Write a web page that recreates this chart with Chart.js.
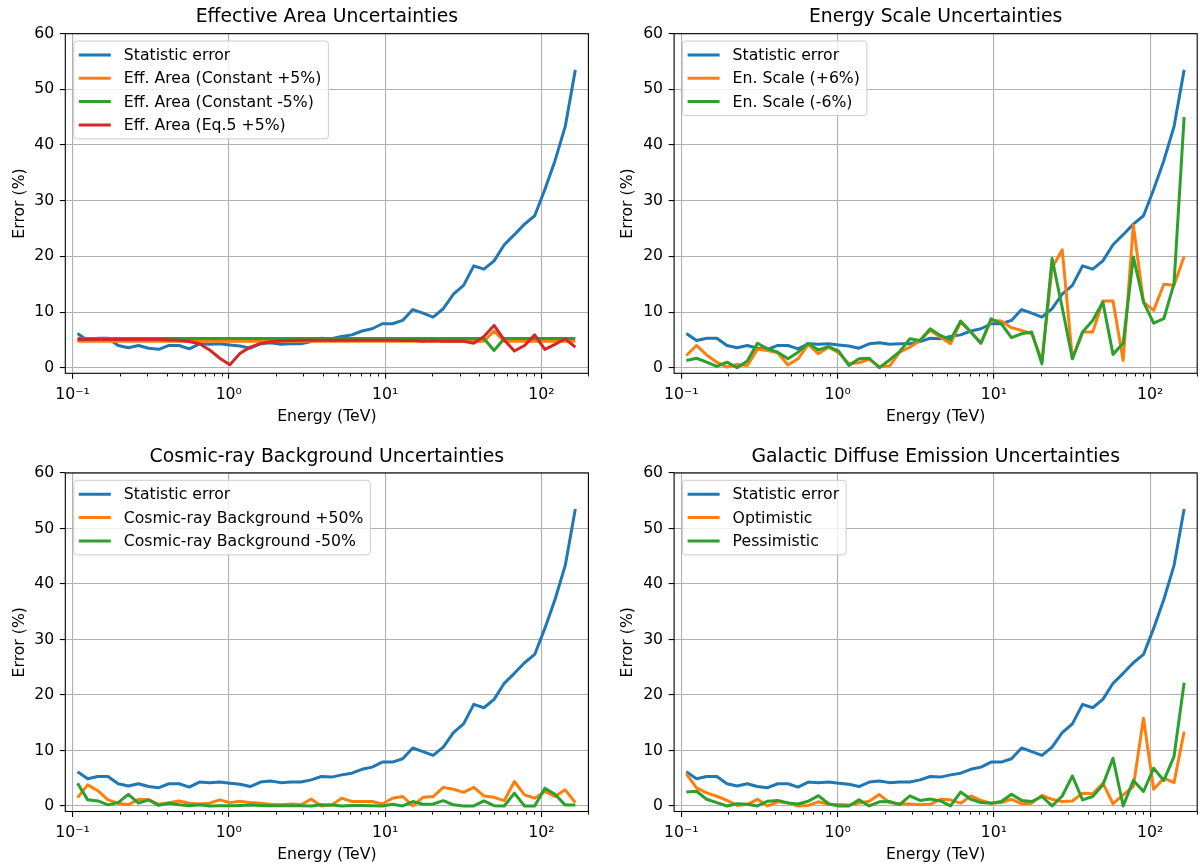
<!DOCTYPE html>
<html>
<head>
<meta charset="utf-8">
<title>Systematic uncertainties vs energy</title>
<script src="https://cdn.jsdelivr.net/npm/chart.js@4.4.0/dist/chart.umd.min.js"></script>
<style>
  html, body { margin: 0; padding: 0; background: #fff; }
  #figure { position: relative; width: 1200px; height: 867px; overflow: hidden; }
  #figure canvas { position: absolute; }
</style>
</head>
<body>
<div id="figure"></div>
<script>
// Energy bin centres (TeV), shared by all four panels
const energy = [0.1078, 0.1252, 0.1454, 0.1689, 0.1961, 0.2278, 0.2646, 0.3073, 0.3569, 0.4145,
  0.4814, 0.5591, 0.6494, 0.7542, 0.8760, 1.017, 1.182, 1.372, 1.594, 1.851,
  2.150, 2.497, 2.901, 3.369, 3.913, 4.545, 5.278, 6.130, 7.120, 8.269,
  9.605, 11.16, 12.96, 15.05, 17.48, 20.30, 23.58, 27.38, 31.80, 36.94,
  42.90, 49.83, 57.87, 67.21, 78.07, 90.67, 105.3, 122.3, 142.1, 165.0];

// Statistic error (%)
const statError = [6.15, 4.9, 5.3, 5.3, 4.0, 3.6, 4.0, 3.5, 3.3, 4.0,
  4.0, 3.4, 4.3, 4.2, 4.3, 4.1, 3.9, 3.5, 4.3, 4.5,
  4.2, 4.3, 4.3, 4.7, 5.3, 5.2, 5.6, 5.9, 6.6, 7.0,
  7.9, 7.9, 8.5, 10.45, 9.8, 9.1, 10.6, 13.2, 14.8, 18.3,
  17.7, 19.2, 22.1, 23.9, 25.8, 27.3, 32.0, 37.2, 43.3, 53.5];

// Effective area panel
const effConstPlus = [4.76, 4.76, 4.76, 4.76, 4.76, 4.76, 4.76, 4.76, 4.76, 4.76,
  4.76, 4.76, 4.76, 4.76, 4.76, 4.76, 4.76, 4.76, 4.76, 4.76,
  4.76, 4.76, 4.76, 4.76, 4.76, 4.76, 4.76, 4.76, 4.76, 4.76,
  4.76, 4.76, 4.76, 4.76, 4.76, 4.76, 4.76, 4.76, 4.76, 4.76,
  4.76, 6.6, 4.76, 4.76, 4.76, 4.76, 4.76, 4.76, 4.76, 4.76];
const effConstMinus = [5.26, 5.26, 5.26, 5.26, 5.26, 5.26, 5.26, 5.26, 5.26, 5.26,
  5.26, 5.26, 5.26, 5.26, 5.26, 5.26, 5.26, 5.26, 5.26, 5.26,
  5.26, 5.26, 5.26, 5.26, 5.26, 5.26, 5.26, 5.26, 5.26, 5.26,
  5.26, 5.26, 5.26, 5.26, 5.26, 5.26, 5.26, 5.26, 5.26, 5.26,
  5.26, 3.1, 5.26, 5.26, 5.26, 5.26, 5.26, 5.26, 5.26, 5.26];
const effEq5Plus = [5.05, 5.05, 5.05, 5.05, 5.05, 5.05, 5.05, 5.05, 5.05, 5.0,
  4.95, 4.7, 4.3, 3.2, 1.7, 0.55, 2.6, 3.7, 4.35, 4.65,
  4.8, 4.9, 4.95, 4.95, 4.95, 4.95, 4.95, 4.95, 4.95, 4.95,
  4.95, 4.95, 4.9, 4.95, 4.75, 4.85, 4.75, 4.8, 4.75, 4.4,
  5.6, 7.6, 5.0, 3.0, 4.0, 5.9, 3.3, 4.2, 5.2, 3.7];

// Energy scale panel
const enScalePlus = [2.2, 4.0, 2.3, 1.0, 0.1, 0.6, 0.4, 3.3, 3.1, 2.7,
  0.5, 1.6, 4.2, 2.5, 3.7, 2.7, 0.7, 0.9, 1.5, 0.2,
  0.3, 2.8, 3.7, 4.9, 6.7, 5.5, 4.3, 8.2, 6.4, 4.4,
  8.5, 8.4, 7.2, 6.7, 6.1, 1.2, 17.9, 21.2, 1.6, 6.4,
  6.4, 12.0, 12.0, 1.3, 25.6, 11.8, 10.3, 15.0, 14.8, 20.0];
const enScaleMinus = [1.3, 1.7, 1.0, 0.25, 1.0, 0.0, 1.2, 4.4, 3.4, 2.8,
  1.6, 2.8, 4.4, 3.2, 3.8, 3.0, 0.4, 1.6, 1.7, 0.0,
  1.4, 2.9, 5.2, 4.9, 7.0, 5.8, 5.0, 8.4, 6.4, 4.4,
  8.8, 7.9, 5.4, 6.1, 6.4, 0.7, 19.6, 10.8, 1.6, 6.4,
  8.5, 11.8, 2.4, 4.4, 19.9, 11.8, 8.0, 8.8, 15.1, 45.0];

// Cosmic-ray background panel
const crBkgPlus = [1.5, 3.8, 2.75, 1.1, 0.5, 0.2, 1.2, 1.1, 0.3, 0.6,
  0.9, 0.5, 0.35, 0.5, 1.1, 0.6, 0.85, 0.6, 0.5, 0.3,
  0.2, 0.35, 0.2, 1.25, 0.0, 0.15, 1.4, 0.8, 0.8, 0.8,
  0.35, 1.4, 1.7, 0.0, 1.55, 1.7, 3.35, 3.0, 2.45, 3.35,
  1.8, 1.55, 0.95, 4.4, 2.0, 1.4, 2.6, 1.7, 2.9, 0.6];
const crBkgMinus = [4.1, 1.1, 0.9, 0.2, 0.6, 2.1, 0.5, 1.1, 0.1, 0.5,
  0.2, 0.05, 0.2, 0.0, 0.05, 0.05, 0.1, 0.15, 0.1, 0.05,
  0.05, 0.05, 0.05, 0.0, 0.2, 0.15, 0.0, 0.1, 0.1, 0.05,
  0.0, 0.3, 0.0, 0.8, 0.3, 0.35, 0.95, 0.2, 0.0, 0.0,
  0.9, 0.05, 0.0, 2.3, 0.0, 0.0, 3.2, 2.1, 0.15, 0.15];

// Galactic diffuse emission panel
const gdeOptimistic = [5.8, 3.25, 2.35, 1.75, 1.0, 0.1, 0.3, 1.2, 0.0, 0.75,
  0.55, 0.0, 0.1, 0.75, 0.3, 0.25, 0.15, 0.55, 0.85, 2.05,
  0.6, 0.4, 0.35, 0.2, 0.3, 1.2, 1.1, 0.5, 1.8, 1.0,
  0.5, 0.6, 1.2, 0.4, 0.5, 1.9, 1.2, 0.8, 0.9, 2.3,
  2.2, 4.1, 0.4, 2.0, 3.5, 15.8, 3.0, 5.0, 4.2, 13.4];
const gdePessimistic = [2.5, 2.65, 1.2, 0.6, 0.0, 0.4, 0.3, 0.0, 0.85, 1.0,
  0.55, 0.35, 0.85, 1.85, 0.4, 0.0, 0.0, 1.1, 0.0, 0.75,
  0.8, 0.25, 1.8, 1.0, 1.25, 0.9, 0.0, 2.5, 1.2, 0.6,
  0.5, 0.8, 2.1, 1.0, 0.8, 1.7, 0.0, 1.8, 5.4, 1.1,
  1.7, 3.8, 8.6, 0.0, 4.6, 2.6, 6.8, 4.6, 8.9, 22.2];

// Axis ticks
const xMajor = [0.1, 1, 10, 100];
const xMajorLabels = ['10⁻¹', '10⁰', '10¹', '10²'];
const xMinor = [0.2, 0.3, 0.4, 0.5, 0.6, 0.7, 0.8, 0.9, 2, 3, 4, 5, 6, 7, 8, 9,
  20, 30, 40, 50, 60, 70, 80, 90, 200];
const yMajor = [0, 10, 20, 30, 40, 50, 60];

const BLUE = '#1f77b4', ORANGE = '#ff7f0e', GREEN = '#2ca02c', RED = '#d62728';
const FONT = '"DejaVu Sans", sans-serif';
const GRID = '#b0b0b0';

const panels = [
  { id: 'effArea', title: 'Effective Area Uncertainties', col: 0, row: 0, series: [
    ['Statistic error', statError, BLUE],
    ['Eff. Area (Constant +5%)', effConstPlus, ORANGE],
    ['Eff. Area (Constant -5%)', effConstMinus, GREEN],
    ['Eff. Area (Eq.5 +5%)', effEq5Plus, RED]] },
  { id: 'enScale', title: 'Energy Scale Uncertainties', col: 1, row: 0, series: [
    ['Statistic error', statError, BLUE],
    ['En. Scale (+6%)', enScalePlus, ORANGE],
    ['En. Scale (-6%)', enScaleMinus, GREEN]] },
  { id: 'crBkg', title: 'Cosmic-ray Background Uncertainties', col: 0, row: 1, series: [
    ['Statistic error', statError, BLUE],
    ['Cosmic-ray Background +50%', crBkgPlus, ORANGE],
    ['Cosmic-ray Background -50%', crBkgMinus, GREEN]] },
  { id: 'gde', title: 'Galactic Diffuse Emission Uncertainties', col: 1, row: 1, series: [
    ['Statistic error', statError, BLUE],
    ['Optimistic', gdeOptimistic, ORANGE],
    ['Pessimistic', gdePessimistic, GREEN]] }
];

// canvas placement and inner margins per column / row
const colGeom = [
  { left: 0, width: 600, axisLeft: 65.3, padRight: 11.6, yTitlePad: 10.6 },
  { left: 600, width: 600, axisLeft: 74.1, padRight: 2.8, yTitlePad: 18.6 }
];
const rowGeom = [
  { top: 0, height: 433, titleTop: 6.2, titleBottom: 4.94, xAxisHeight: 59.7, xTitlePad: 6.8 },
  { top: 433, height: 434, titleTop: 12.5, titleBottom: 4.94, xAxisHeight: 55.5, xTitlePad: 2.6 }
];

// frame, minor ticks and the boxed legend in the upper-left corner
const frameAndLegend = {
  id: 'frameAndLegend',
  afterDatasetsDraw(chart) {
    const { ctx, chartArea: ca } = chart;
    const xs = chart.scales.x;
    ctx.save();

    ctx.strokeStyle = '#000';
    ctx.lineWidth = 1.1;
    ctx.strokeRect(ca.left, ca.top, ca.right - ca.left, ca.bottom - ca.top);
    ctx.lineWidth = 0.9;
    ctx.beginPath();
    xMinor.forEach(v => {
      const px = Math.round(xs.getPixelForValue(v)) + 0.5;
      ctx.moveTo(px, ca.bottom);
      ctx.lineTo(px, ca.bottom + 3.2);
    });
    ctx.stroke();

    const items = chart.data.datasets;
    ctx.font = '15.7px ' + FONT;
    const textW = Math.max(...items.map(d => ctx.measureText(d.label).width));
    const bx = ca.left + 8.5, by = ca.top + 7.3;
    const pitch = 23.3, rowPad = 14;
    const bw = 50 + textW + 7;
    const bh = rowPad * 2 + (items.length - 1) * pitch;
    ctx.beginPath();
    ctx.roundRect(bx, by, bw, bh, 3);
    ctx.fillStyle = 'rgba(255,255,255,0.8)';
    ctx.fill();
    ctx.strokeStyle = '#cccccc';
    ctx.lineWidth = 1;
    ctx.stroke();

    items.forEach((d, i) => {
      const cy = by + rowPad + i * pitch;
      ctx.beginPath();
      ctx.strokeStyle = d.borderColor;
      ctx.lineWidth = d.borderWidth;
      ctx.lineCap = 'butt';
      ctx.moveTo(bx + 5, cy);
      ctx.lineTo(bx + 37, cy);
      ctx.stroke();
      ctx.fillStyle = '#000';
      ctx.textBaseline = 'middle';
      ctx.textAlign = 'left';
      ctx.fillText(d.label, bx + 50, cy + 1);
    });
    ctx.restore();
  }
};

const figure = document.getElementById('figure');

panels.forEach(p => {
  const c = colGeom[p.col], r = rowGeom[p.row];
  const canvas = document.createElement('canvas');
  canvas.id = p.id;
  canvas.width = c.width;
  canvas.height = r.height;
  canvas.style.left = c.left + 'px';
  canvas.style.top = r.top + 'px';
  figure.appendChild(canvas);

  const n = p.series.length;
  new Chart(canvas, {
    type: 'line',
    data: {
      datasets: p.series.map(([label, values, color], i) => ({
        label: label,
        data: energy.map((e, k) => ({ x: e, y: values[k] })),
        borderColor: color,
        backgroundColor: color,
        borderWidth: 3,
        borderJoinStyle: 'round',
        borderCapStyle: 'butt',
        pointRadius: 0,
        tension: 0,
        fill: false,
        order: n - i
      }))
    },
    options: {
      responsive: false,
      animation: false,
      devicePixelRatio: 1,
      events: [],
      layout: { padding: { left: 0, right: c.padRight, top: 0, bottom: 0 } },
      plugins: {
        legend: { display: false },
        tooltip: { enabled: false },
        title: {
          display: true,
          fullSize: false,   // centre the title over the plot area, not the canvas
          text: p.title,
          color: '#000',
          font: { family: FONT, size: 18.8, weight: 'normal' },
          padding: { top: r.titleTop, bottom: r.titleBottom }
        }
      },
      scales: {
        x: {
          type: 'logarithmic',
          min: 0.09,
          max: 200,
          afterBuildTicks: s => { s.ticks = xMajor.map(v => ({ value: v })); },
          afterFit: s => { s.height = r.xAxisHeight; },
          ticks: {
            callback: v => xMajorLabels[xMajor.indexOf(v)],
            color: '#000',
            font: { family: FONT, size: 15.7 },
            padding: 6.5,
            autoSkip: false,
            maxRotation: 0
          },
          grid: { color: GRID, lineWidth: 1.1, tickColor: '#000', tickLength: 5.5, tickWidth: 1.1 },
          border: { display: false },
          title: {
            display: true,
            text: 'Energy (TeV)',
            color: '#000',
            font: { family: FONT, size: 15.7 },
            padding: { top: 0, bottom: r.xTitlePad }
          }
        },
        y: {
          type: 'linear',
          min: -1,
          max: 60,
          afterBuildTicks: s => { s.ticks = yMajor.map(v => ({ value: v })); },
          afterFit: s => { s.width = c.axisLeft; },
          ticks: {
            color: '#000',
            font: { family: FONT, size: 15.7 },
            padding: 5.5
          },
          grid: { color: GRID, lineWidth: 1.1, tickColor: '#000', tickLength: 5.5, tickWidth: 1.1 },
          border: { display: false },
          title: {
            display: true,
            text: 'Error (%)',
            color: '#000',
            font: { family: FONT, size: 15.7 },
            padding: { top: c.yTitlePad, bottom: 0 }
          }
        }
      }
    },
    plugins: [frameAndLegend]
  });
});
</script>
</body>
</html>
